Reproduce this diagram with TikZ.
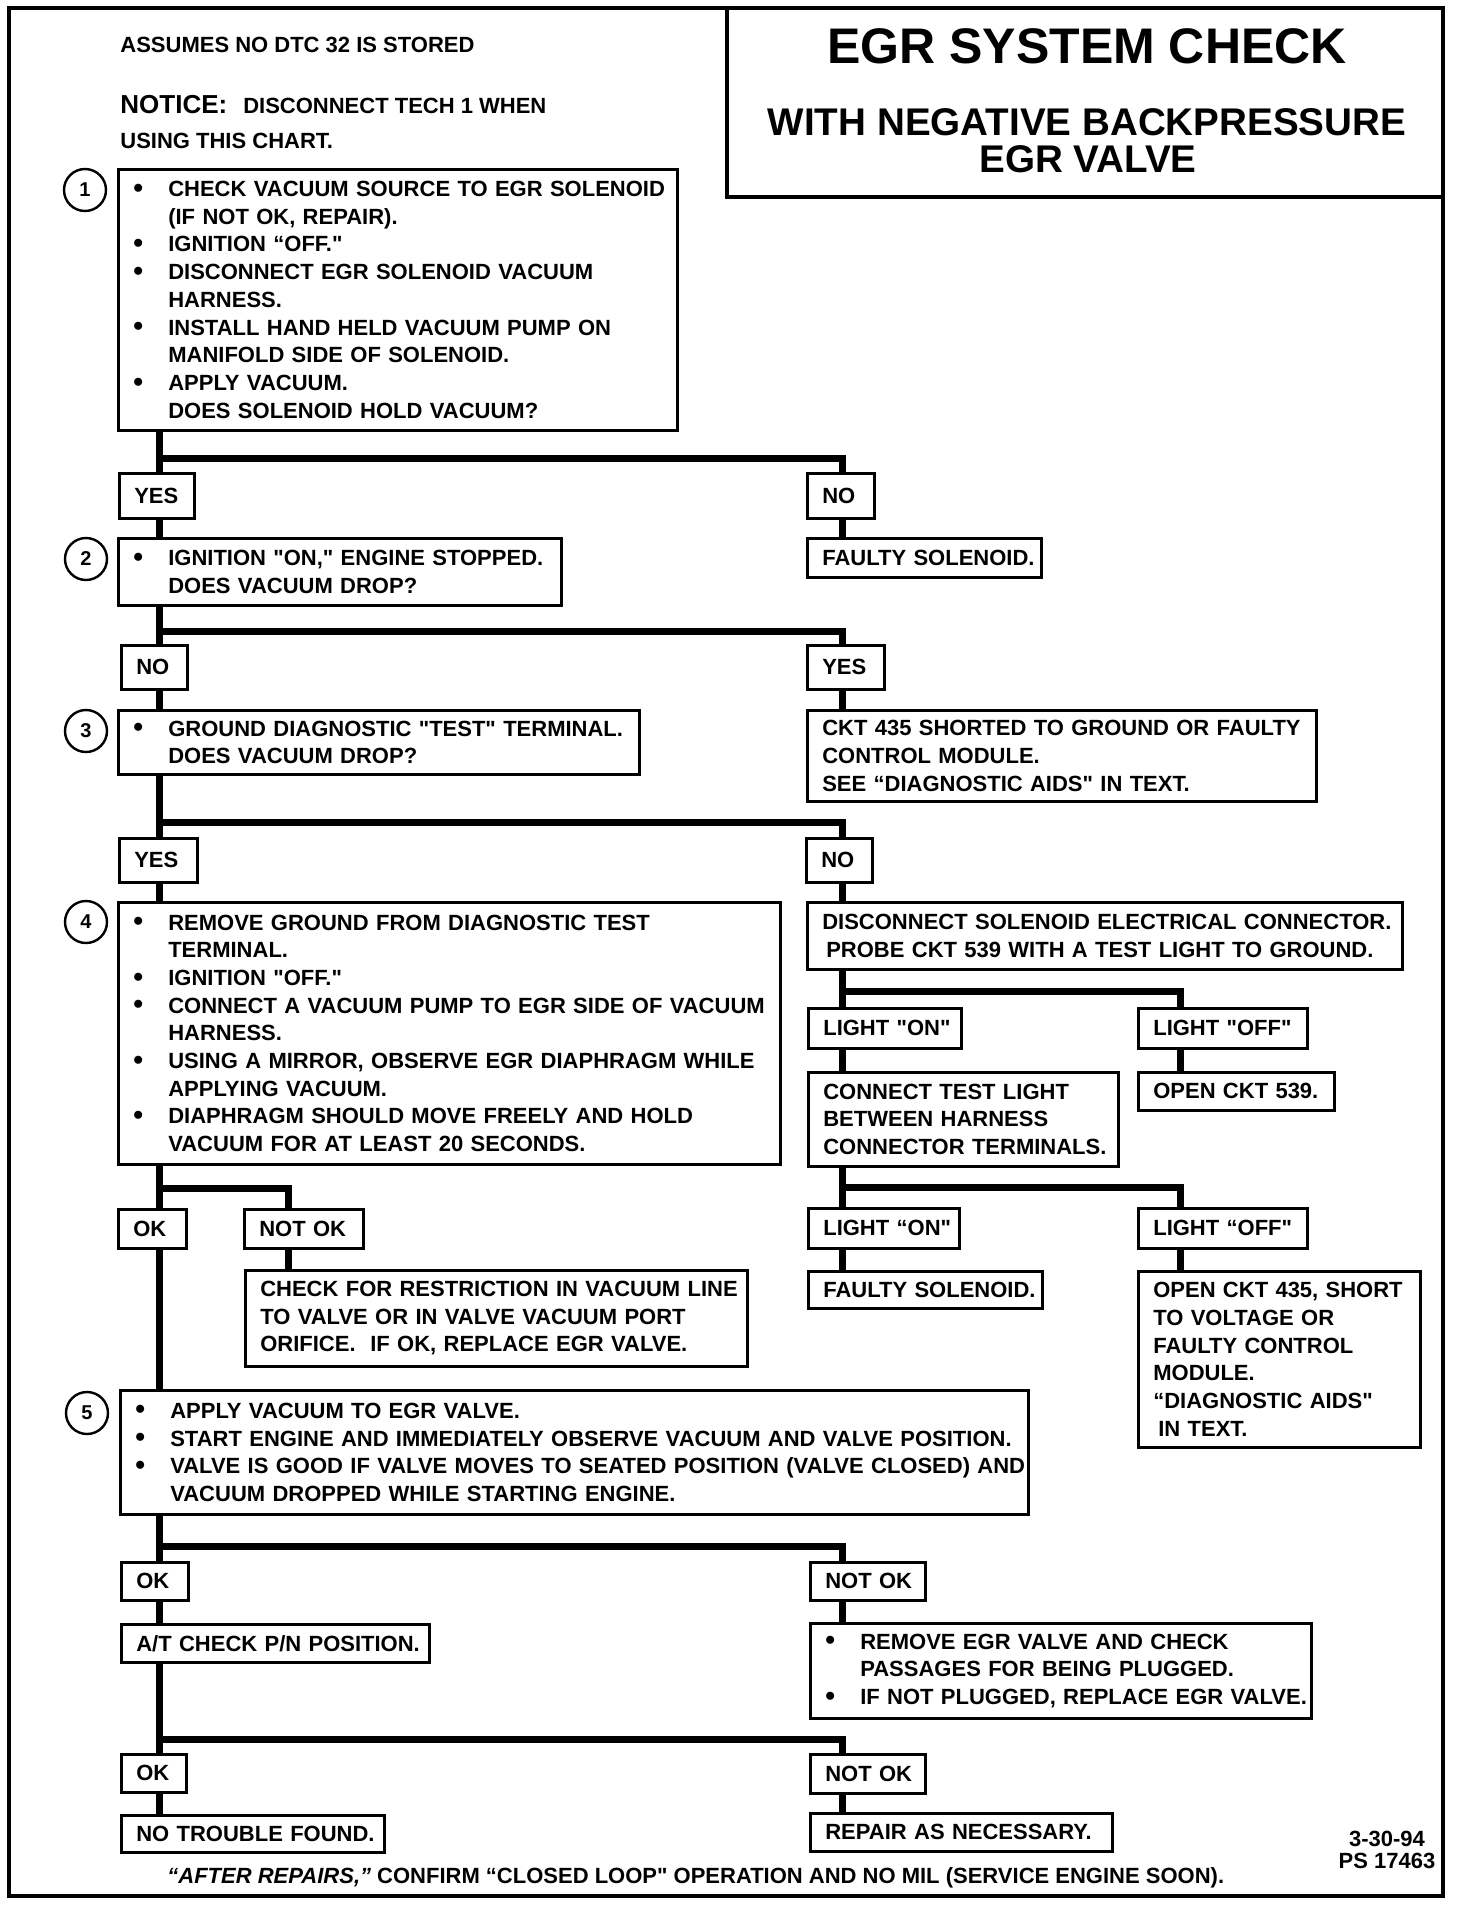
\documentclass[tikz,border=0pt]{standalone}
\usepackage{fontspec}
\setmainfont{Liberation Sans}[Ligatures=TeXOff]
\newcommand\bul[1]{\mbox{\makebox[17.5pt][l]{\raisebox{-0.3pt}{\fontsize{14}{14}\selectfont\textbullet}}#1}}
\newcommand\cnt[1]{\mbox{\hspace*{17.5pt}#1}}
\newcommand\lx[1]{\mbox{#1}}
\begin{document}
\begin{tikzpicture}[x=0.5pt,y=-0.5pt,
  every node/.style={font=\bfseries\fontsize{11}{13.85}\selectfont, inner sep=0pt},
  bx/.style 2 args={draw, line width=1.3pt, rectangle, anchor=north west,
    inner xsep=7.5pt, inner ysep=0pt, align=left,
    minimum width=#1*0.5pt, minimum height=#2*0.5pt, text width=#1*0.5pt-15pt},
  conn/.style={line width=3.5pt},
  num/.style={draw, circle, line width=1.2pt, minimum size=21pt, inner sep=0pt,
    font=\bfseries\fontsize{10}{12}\selectfont},
  frame/.style={line width=1.6pt},
  hdr/.style={anchor=base west}]
\useasboundingbox (0,0) rectangle (1472,1906);
\fill[white] (0,0) rectangle (1472,1906);
% frames
\draw[frame] (9,8) rectangle (1443,1896);
\draw[frame] (727,8) rectangle (1443,197);
% title
\node[anchor=base, font=\bfseries\fontsize{25}{30}\selectfont] (t1) at (1087,63) {EGR SYSTEM CHECK};
\node[anchor=base, font=\bfseries\fontsize{19.3}{23}\selectfont] (t2) at (1087,135) {WITH NEGATIVE BACKPRESSURE};
\node[anchor=base, font=\bfseries\fontsize{19.3}{23}\selectfont] (t3) at (1088,172) {EGR VALVE};
% header notes
\node[hdr] (h1) at (120,53) {ASSUMES NO DTC 32 IS STORED};
\node[hdr] (h2) at (120,113) {{\fontsize{13}{15}\selectfont NOTICE:}\hspace{8pt}DISCONNECT TECH 1 WHEN};
\node[hdr] (h3) at (120,148) {USING THIS CHART.};
% step circles
\node[num] (c1) at (85,190) {1};
\node[num] (c2) at (86,559) {2};
\node[num] (c3) at (86,731) {3};
\node[num] (c4) at (86,922) {4};
\node[num] (c5) at (87,1413) {5};
% boxes
\node[bx={559}{261}] (b1) at (117,168) {\bul{CHECK VACUUM SOURCE TO EGR SOLENOID}\\
\cnt{(IF NOT OK, REPAIR).}\\
\bul{IGNITION “OFF."}\\
\bul{DISCONNECT EGR SOLENOID VACUUM}\\
\cnt{HARNESS.}\\
\bul{INSTALL HAND HELD VACUUM PUMP ON}\\
\cnt{MANIFOLD SIDE OF SOLENOID.}\\
\bul{APPLY VACUUM.}\\
\cnt{DOES SOLENOID HOLD VACUUM?}};
\node[bx={75}{45}] (yes1) at (118,472) {\lx{YES}};
\node[bx={67}{45}] (no1) at (806,472) {\lx{NO}};
\node[bx={443}{67}] (b2) at (117,537) {\bul{IGNITION "ON," ENGINE STOPPED.}\\ \cnt{DOES VACUUM DROP?}};
\node[bx={234}{39}] (fs1) at (806,537) {\lx{FAULTY SOLENOID.}};
\node[bx={66}{44}] (no2) at (120,644) {\lx{NO}};
\node[bx={77}{44}] (yes2) at (806,644) {\lx{YES}};
\node[bx={521}{64}] (b3) at (117,709) {\bul{GROUND DIAGNOSTIC "TEST" TERMINAL.}\\ \cnt{DOES VACUUM DROP?}};
\node[bx={509}{91}] (ckt) at (806,709) {\lx{CKT 435 SHORTED TO GROUND OR FAULTY}\\ \lx{CONTROL MODULE.}\\ \lx{SEE “DIAGNOSTIC AIDS" IN TEXT.}};
\node[bx={78}{44}] (yes3) at (118,837) {\lx{YES}};
\node[bx={66}{44}] (no3) at (805,837) {\lx{NO}};
\node[bx={662}{262}] (b4) at (117,901) {\bul{REMOVE GROUND FROM DIAGNOSTIC TEST}\\
\cnt{TERMINAL.}\\
\bul{IGNITION "OFF."}\\
\bul{CONNECT A VACUUM PUMP TO EGR SIDE OF VACUUM}\\
\cnt{HARNESS.}\\
\bul{USING A MIRROR, OBSERVE EGR DIAPHRAGM WHILE}\\
\cnt{APPLYING VACUUM.}\\
\bul{DIAPHRAGM SHOULD MOVE FREELY AND HOLD}\\
\cnt{VACUUM FOR AT LEAST 20 SECONDS.}};
\node[bx={595}{67}] (disc) at (806,901) {\lx{DISCONNECT SOLENOID ELECTRICAL CONNECTOR.}\\ \lx{\hspace*{2pt}PROBE CKT 539 WITH A TEST LIGHT TO GROUND.}};
\node[bx={153}{40}] (lon1) at (807,1007) {\lx{LIGHT "ON"}};
\node[bx={169}{40}] (loff1) at (1137,1007) {\lx{LIGHT "OFF"}};
\node[bx={310}{94}] (conn) at (807,1071) {\lx{CONNECT TEST LIGHT}\\ \lx{BETWEEN HARNESS}\\ \lx{CONNECTOR TERMINALS.}};
\node[bx={196}{38}] (o539) at (1137,1071) {\lx{OPEN CKT 539.}};
\node[bx={151}{40}] (lon2) at (807,1207) {\lx{LIGHT “ON"}};
\node[bx={169}{40}] (loff2) at (1137,1207) {\lx{LIGHT “OFF"}};
\node[bx={234}{37}] (fs2) at (807,1270) {\lx{FAULTY SOLENOID.}};
\node[bx={282}{176}] (o435) at (1137,1270) {\lx{OPEN CKT 435, SHORT}\\ \lx{TO VOLTAGE OR}\\ \lx{FAULTY CONTROL}\\ \lx{MODULE.}\\ \lx{“DIAGNOSTIC AIDS"}\\ \lx{\hspace*{2.5pt}IN TEXT.}};
\node[bx={68}{39}] (ok4) at (117,1208) {\lx{OK}};
\node[bx={119}{39}] (nok4) at (243,1208) {\lx{NOT OK}};
\node[bx={502}{96}] (chk) at (244,1269) {\lx{CHECK FOR RESTRICTION IN VACUUM LINE}\\ \lx{TO VALVE OR IN VALVE VACUUM PORT}\\ \lx{ORIFICE.\ \ IF OK, REPLACE EGR VALVE.}};
\node[bx={908}{124}] (b5) at (119,1389) {\bul{APPLY VACUUM TO EGR VALVE.}\\
\bul{START ENGINE AND IMMEDIATELY OBSERVE VACUUM AND VALVE POSITION.}\\
\bul{VALVE IS GOOD IF VALVE MOVES TO SEATED POSITION (VALVE CLOSED) AND}\\
\cnt{VACUUM DROPPED WHILE STARTING ENGINE.}};
\node[bx={67}{38}] (ok5) at (120,1561) {\lx{OK}};
\node[bx={115}{38}] (nok5) at (809,1561) {\lx{NOT OK}};
\node[bx={308}{38}] (at) at (120,1623) {\lx{A/T CHECK P/N POSITION.}};
\node[bx={501}{95}] (rem) at (809,1622) {\bul{REMOVE EGR VALVE AND CHECK}\\ \cnt{PASSAGES FOR BEING PLUGGED.}\\ \bul{IF NOT PLUGGED, REPLACE EGR VALVE.}};
\node[bx={65}{38}] (ok6) at (120,1753) {\lx{OK}};
\node[bx={115}{39}] (nok6) at (809,1753) {\lx{NOT OK}};
\node[bx={263}{37}] (ntf) at (120,1814) {\lx{NO TROUBLE FOUND.}};
\node[bx={302}{38}] (rep) at (809,1812) {\lx{REPAIR AS NECESSARY.}};
% footer
\node[hdr] (foot) at (167,1883) {{\itshape “AFTER REPAIRS,”} CONFIRM “CLOSED LOOP" OPERATION AND NO MIL (SERVICE ENGINE SOON).};
\node[anchor=base] (date) at (1387,1846) {3-30-94};
\node[anchor=base] (ps) at (1387,1868) {PS 17463};
% spine coordinates
\coordinate (spL) at (159,0);
\coordinate (spR) at (842,0);
\coordinate (spN) at (288,0);
\coordinate (spRR) at (1180,0);
\coordinate (j1) at (159,458);
\coordinate (j2) at (159,631);
\coordinate (j3) at (159,822);
\coordinate (j4) at (842,991);
\coordinate (j5) at (842,1187);
\coordinate (j6) at (159,1188);
\coordinate (j7) at (159,1546);
\coordinate (j8) at (159,1739);
% connectors
\draw[conn] (b1.south -| spL) -- (yes1.north -| spL);
\draw[conn] (j1) -| (no1.north -| spR);
\draw[conn] (yes1.south -| spL) -- (b2.north -| spL);
\draw[conn] (no1.south -| spR) -- (fs1.north -| spR);
\draw[conn] (b2.south -| spL) -- (no2.north -| spL);
\draw[conn] (j2) -| (yes2.north -| spR);
\draw[conn] (yes2.south -| spR) -- (ckt.north -| spR);
\draw[conn] (no2.south -| spL) -- (b3.north -| spL);
\draw[conn] (b3.south -| spL) -- (yes3.north -| spL);
\draw[conn] (j3) -| (no3.north -| spR);
\draw[conn] (yes3.south -| spL) -- (b4.north -| spL);
\draw[conn] (no3.south -| spR) -- (disc.north -| spR);
\draw[conn] (disc.south -| spR) -- (lon1.north -| spR);
\draw[conn] (j4) -| (loff1.north -| spRR);
\draw[conn] (lon1.south -| spR) -- (conn.north -| spR);
\draw[conn] (loff1.south -| spRR) -- (o539.north -| spRR);
\draw[conn] (conn.south -| spR) -- (lon2.north -| spR);
\draw[conn] (j5) -| (loff2.north -| spRR);
\draw[conn] (lon2.south -| spR) -- (fs2.north -| spR);
\draw[conn] (loff2.south -| spRR) -- (o435.north -| spRR);
\draw[conn] (b4.south -| spL) -- (ok4.north -| spL);
\draw[conn] (j6) -| (nok4.north -| spN);
\draw[conn] (ok4.south -| spL) -- (b5.north -| spL);
\draw[conn] (nok4.south -| spN) -- (chk.north -| spN);
\draw[conn] (b5.south -| spL) -- (ok5.north -| spL);
\draw[conn] (j7) -| (nok5.north -| spR);
\draw[conn] (ok5.south -| spL) -- (at.north -| spL);
\draw[conn] (nok5.south -| spR) -- (rem.north -| spR);
\draw[conn] (at.south -| spL) -- (ok6.north -| spL);
\draw[conn] (j8) -| (nok6.north -| spR);
\draw[conn] (ok6.south -| spL) -- (ntf.north -| spL);
\draw[conn] (nok6.south -| spR) -- (rep.north -| spR);
\end{tikzpicture}
\end{document}
